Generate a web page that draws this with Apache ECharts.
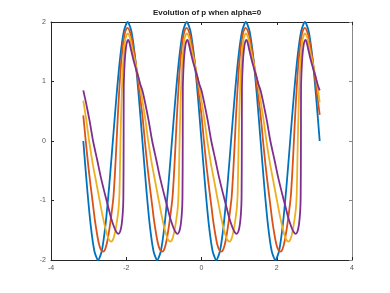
<!DOCTYPE html>
<html>
<head>
<meta charset="utf-8">
<script src="https://cdn.jsdelivr.net/npm/echarts@6/dist/echarts.min.js"></script>
<style>html,body{margin:0;padding:0;background:#fff}#c{width:390px;height:293px}</style>
</head>
<body>
<div id="c"></div>
<script>
var titleText = 'Evolution of p when alpha=0';
var xTicks = [-4, -2, 0, 2, 4];
var yTicks = [-2, -1, 0, 1, 2];
var seriesNames = ['t1', 't2', 't3', 't4'];
var seriesColors = ['#0072BD', '#D95319', '#EDB120', '#7E2F8E'];

var blueX = [-3.1416,-3.0434,-2.9453,-2.8471,-2.7489,-2.6507,-2.5526,-2.4544,-2.3562,-2.2580,-2.1599,-2.0617,-1.9635,-1.8653,-1.7672,-1.6690,
 -1.5708,-1.4726,-1.3745,-1.2763,-1.1781,-1.0799,-0.9818,-0.8836,-0.7854,-0.6872,-0.5891,-0.4909,-0.3927,-0.2945,-0.1964,-0.0982,
 0,0.0982,0.1963,0.2945,0.3927,0.4909,0.5890,0.6872,0.7854,0.8836,0.9817,1.0799,1.1781,1.2763,1.3744,1.4726,
 1.5708,1.6690,1.7671,1.8653,1.9635,2.0617,2.1598,2.2580,2.3562,2.4544,2.5525,2.6507,2.7489,2.8471,2.9452,3.0434,3.1416];
var blueY = [0,-0.765,-1.414,-1.848,-2,-1.848,-1.414,-0.765,0,0.765,1.414,1.848,2,1.848,1.414,0.765,
 0,-0.765,-1.414,-1.848,-2,-1.848,-1.414,-0.765,0,0.765,1.414,1.848,2,1.848,1.414,0.765,
 0,-0.765,-1.414,-1.848,-2,-1.848,-1.414,-0.765,0,0.765,1.414,1.848,2,1.848,1.414,0.765,
 0,-0.765,-1.414,-1.848,-2,-1.848,-1.414,-0.765,0,0.765,1.414,1.848,2,1.848,1.414,0.765,0];

var orangeX = [-3.1416,-3.0766,-3.0116,-2.9516,-2.8916,-2.8316,-2.7716,-2.7216,-2.6716,-2.6166,-2.5616,-2.5016,-2.4416,-2.3916,-2.3416,-2.2966,-2.2566,-2.2216,-2.1816,-2.1416,-2.0916,-2.0416,-2.0016,-1.9616,-1.9116,-1.8616,-1.8016,-1.7516,-1.6916,-1.6316,
 -1.5708,-1.5058,-1.4408,-1.3808,-1.3208,-1.2608,-1.2008,-1.1508,-1.1008,-1.0458,-0.9908,-0.9308,-0.8708,-0.8208,-0.7708,-0.7258,-0.6858,-0.6508,-0.6108,-0.5708,-0.5208,-0.4708,-0.4308,-0.3908,-0.3408,-0.2908,-0.2308,-0.1808,-0.1208,-0.0608,
 0,0.065,0.13,0.19,0.25,0.31,0.37,0.42,0.47,0.525,0.58,0.64,0.70,0.75,0.80,0.845,0.885,0.92,0.96,1.00,1.05,1.10,1.14,1.18,1.23,1.28,1.34,1.39,1.45,1.51,
 1.5708,1.6358,1.7008,1.7608,1.8208,1.8808,1.9408,1.9908,2.0408,2.0958,2.1508,2.2108,2.2708,2.3208,2.3708,2.4158,2.4558,2.4908,2.5308,2.5708,2.6208,2.6708,2.7108,2.7508,2.8008,2.8508,2.9108,2.9608,3.0208,3.0808,3.1416];
var orangeY = [0.43,0,-0.40,-0.73,-1.03,-1.34,-1.58,-1.74,-1.83,-1.86,-1.82,-1.68,-1.45,-1.22,-0.95,-0.50,0,0.45,0.90,1.28,1.60,1.80,1.88,1.90,1.85,1.74,1.53,1.33,1.03,0.74,
 0.43,0,-0.40,-0.73,-1.03,-1.34,-1.58,-1.74,-1.83,-1.86,-1.82,-1.68,-1.45,-1.22,-0.95,-0.50,0,0.45,0.90,1.28,1.60,1.80,1.88,1.90,1.85,1.74,1.53,1.33,1.03,0.74,
 0.43,0,-0.40,-0.73,-1.03,-1.34,-1.58,-1.74,-1.83,-1.86,-1.82,-1.68,-1.45,-1.22,-0.95,-0.50,0,0.45,0.90,1.28,1.60,1.80,1.88,1.90,1.85,1.74,1.53,1.33,1.03,0.74,
 0.43,0,-0.40,-0.73,-1.03,-1.34,-1.58,-1.74,-1.83,-1.86,-1.82,-1.68,-1.45,-1.22,-0.95,-0.50,0,0.45,0.90,1.28,1.60,1.80,1.88,1.90,1.85,1.74,1.53,1.33,1.03,0.74,0.44];

var yellowX = [-3.1416,-3.0616,-2.9866,-2.8916,-2.8016,-2.7066,-2.6216,-2.5416,-2.4716,-2.4016,-2.3416,-2.2816,-2.2316,-2.2016,-2.1816,-2.1666,-2.1536,-2.1316,-2.1016,-2.0616,-2.0216,-1.9616,-1.9016,-1.8416,-1.7716,-1.7016,-1.6316,
 -1.5708,-1.4908,-1.4158,-1.3208,-1.2308,-1.1358,-1.0508,-0.9708,-0.9008,-0.8308,-0.7708,-0.7108,-0.6608,-0.6308,-0.6108,-0.5958,-0.5828,-0.5608,-0.5308,-0.4908,-0.4508,-0.3908,-0.3308,-0.2708,-0.2008,-0.1308,-0.0608,
 0,0.08,0.155,0.25,0.34,0.435,0.52,0.60,0.67,0.74,0.80,0.86,0.91,0.94,0.96,0.975,0.988,1.01,1.04,1.08,1.12,1.18,1.24,1.30,1.37,1.44,1.51,
 1.5708,1.6508,1.7258,1.8208,1.9108,2.0058,2.0908,2.1708,2.2408,2.3108,2.3708,2.4308,2.4808,2.5108,2.5308,2.5458,2.5588,2.5808,2.6108,2.6508,2.6908,2.7508,2.8108,2.8708,2.9408,3.0108,3.0808,3.1416];
var yellowY = [0.68,0.35,0,-0.38,-0.68,-1.00,-1.28,-1.50,-1.64,-1.69,-1.64,-1.48,-1.28,-1.12,-0.90,-0.45,0,0.55,1.10,1.50,1.72,1.81,1.74,1.55,1.36,1.15,0.92,
 0.68,0.35,0,-0.38,-0.68,-1.00,-1.28,-1.50,-1.64,-1.69,-1.64,-1.48,-1.28,-1.12,-0.90,-0.45,0,0.55,1.10,1.50,1.72,1.81,1.74,1.55,1.36,1.15,0.92,
 0.68,0.35,0,-0.38,-0.68,-1.00,-1.28,-1.50,-1.64,-1.69,-1.64,-1.48,-1.28,-1.12,-0.90,-0.45,0,0.55,1.10,1.50,1.72,1.81,1.74,1.55,1.36,1.15,0.92,
 0.68,0.35,0,-0.38,-0.68,-1.00,-1.28,-1.50,-1.64,-1.69,-1.64,-1.48,-1.28,-1.12,-0.90,-0.45,0,0.55,1.10,1.50,1.72,1.81,1.74,1.55,1.36,1.15,0.92,0.65];

var purpleX = [-3.1416,-3.0616,-2.9716,-2.8816,-2.7716,-2.6716,-2.5716,-2.4816,-2.4016,-2.3216,-2.2616,-2.2116,-2.1616,-2.1216,-2.0916,-2.0766,-2.0696,-2.0666,-2.0516,-2.0316,-2.0016,-1.9716,-1.9516,-1.9216,-1.8716,-1.8116,-1.7416,-1.6716,-1.6216,
 -1.5708,-1.4908,-1.4008,-1.3108,-1.2008,-1.1008,-1.0008,-0.9108,-0.8308,-0.7508,-0.6908,-0.6408,-0.5908,-0.5508,-0.5208,-0.5058,-0.4988,-0.4958,-0.4808,-0.4608,-0.4308,-0.4008,-0.3808,-0.3508,-0.3008,-0.2408,-0.1708,-0.1008,-0.0508,
 0,0.08,0.17,0.26,0.37,0.47,0.57,0.66,0.74,0.82,0.88,0.93,0.98,1.02,1.05,1.065,1.072,1.075,1.09,1.11,1.14,1.17,1.19,1.22,1.27,1.33,1.40,1.47,1.52,
 1.5708,1.6508,1.7408,1.8308,1.9408,2.0408,2.1408,2.2308,2.3108,2.3908,2.4508,2.5008,2.5508,2.5908,2.6208,2.6358,2.6428,2.6458,2.6608,2.6808,2.7108,2.7408,2.7608,2.7908,2.8408,2.9008,2.9708,3.0408,3.0908,3.1416];
var purpleY = [0.85,0.62,0.33,0,-0.32,-0.62,-0.88,-1.10,-1.30,-1.45,-1.53,-1.56,-1.52,-1.40,-1.20,-0.95,0,0.90,1.20,1.42,1.60,1.68,1.70,1.67,1.53,1.37,1.21,1.06,0.94,
 0.85,0.62,0.33,0,-0.32,-0.62,-0.88,-1.10,-1.30,-1.45,-1.53,-1.56,-1.52,-1.40,-1.20,-0.95,0,0.90,1.20,1.42,1.60,1.68,1.70,1.67,1.53,1.37,1.21,1.06,0.94,
 0.85,0.62,0.33,0,-0.32,-0.62,-0.88,-1.10,-1.30,-1.45,-1.53,-1.56,-1.52,-1.40,-1.20,-0.95,0,0.90,1.20,1.42,1.60,1.68,1.70,1.67,1.53,1.37,1.21,1.06,0.94,
 0.85,0.62,0.33,0,-0.32,-0.62,-0.88,-1.10,-1.30,-1.45,-1.53,-1.56,-1.52,-1.40,-1.20,-0.95,0,0.90,1.20,1.42,1.60,1.68,1.70,1.67,1.53,1.37,1.21,1.06,0.94,0.85];

function pairs(xs, ys) { return xs.map(function (x, i) { return [x, ys[i]]; }); }
var allX = [blueX, orangeX, yellowX, purpleX];
var allY = [blueY, orangeY, yellowY, purpleY];

var chart = echarts.init(document.getElementById('c'), null, {renderer: 'canvas'});
var axisCol = '#262626';
function xAx(pos, showLabel) {
  return {type: 'value', position: pos, min: xTicks[0], max: xTicks[xTicks.length - 1], interval: 2,
    axisLine: {show: true, onZero: false, lineStyle: {color: axisCol, width: 1}},
    axisTick: {show: true, inside: true, length: 3, lineStyle: {color: axisCol}},
    axisLabel: {show: showLabel, fontSize: 7, color: '#555', margin: 5, fontFamily: 'Liberation Sans, Arial, sans-serif'},
    splitLine: {show: false}};
}
function yAx(pos, showLabel, col) {
  return {type: 'value', position: pos, min: yTicks[0], max: yTicks[yTicks.length - 1], interval: 1,
    axisLine: {show: true, onZero: false, lineStyle: {color: col, width: 1}},
    axisTick: {show: true, inside: true, length: 3, lineStyle: {color: col}},
    axisLabel: {show: showLabel, fontSize: 7, color: '#555', margin: 5, fontFamily: 'Liberation Sans, Arial, sans-serif'},
    splitLine: {show: false}};
}
var series = seriesNames.map(function (n, i) {
  return {name: n, type: 'line', xAxisIndex: 0, yAxisIndex: 0, data: pairs(allX[i], allY[i]),
    showSymbol: false, symbol: 'none', smooth: 0.25,
    lineStyle: {color: seriesColors[i], width: 1.8}, itemStyle: {color: seriesColors[i]}, z: 2 + i};
});
chart.setOption({
  animation: false,
  backgroundColor: '#fff',
  title: {text: titleText, left: 202, top: 4, textAlign: 'center',
    textStyle: {fontSize: 8, fontWeight: 'bold', color: '#222', fontFamily: 'Liberation Sans, Arial, sans-serif'}},
  grid: {left: 51, right: 38, top: 22, bottom: 33, containLabel: false, outerBoundsMode: 'none'},
  xAxis: [xAx('bottom', true), xAx('top', false)],
  yAxis: [yAx('left', true, axisCol), yAx('right', false, '#888')],
  series: series
});
</script>
</body>
</html>
